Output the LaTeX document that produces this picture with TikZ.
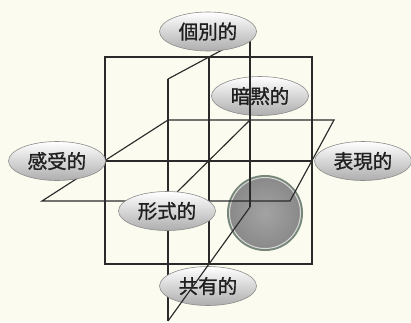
\documentclass[tikz,border=0pt]{standalone}
\usepackage{fontspec}
\newfontfamily\cjk[FakeBold=1.2]{Noto Sans CJK JP}
\usetikzlibrary{shapes.geometric}
\definecolor{bg}{HTML}{FBFBEF}
\definecolor{ln}{HTML}{2A2A2A}
\definecolor{rim}{HTML}{76877A}
\begin{document}
\begin{tikzpicture}[x=1pt,y=-1pt,
  lbl/.style={ellipse, draw=black!45, line width=0.6pt, minimum width=97pt, minimum height=39pt,
    inner sep=0pt, top color=white, middle color=black!10, bottom color=black!32,
    text=black!88, font=\cjk\fontsize{19.5}{19.5}\selectfont},
  edge/.style={draw=ln, line width=1.15pt}]
\fill[bg] (0,0) rectangle (411,322);
\useasboundingbox (0,0) rectangle (411,322);
% sphere
\fill[rim] (265,213) circle (38);
\shade[inner color=black!36, outer color=black!46] (265,213) circle (35.5);
\draw[white!70!gray, line width=1pt] (265,213) circle (35.5);
% corners
\coordinate (sqTL) at (105,57);
\coordinate (sqBR) at (312,264);
\coordinate (mT) at (209,57);
\coordinate (mB) at (209,264);
\coordinate (mL) at (105,161);
\coordinate (mR) at (312,161);
\coordinate (hA) at (42,201);
\coordinate (hB) at (290,201);
\coordinate (hC) at (334,120);
\coordinate (hD) at (168,120);
\coordinate (vA) at (168,79);
\coordinate (vB) at (250,35);
\coordinate (vC) at (250,207);
\coordinate (vD) at (168,321);
\coordinate (iA) at (250,120);
\coordinate (iB) at (168,201);
% lines under the labels
\draw[edge] (sqTL) rectangle (sqBR);
\draw[edge] (mT) -- (mB);
\draw[edge] (mL) -- (mR);
\draw[edge] (hA) -- (hB) -- (hC) -- (hD) -- cycle;
\draw[edge] (vA) -- (vD);
\draw[edge] (vA) -- (vB);
\draw[edge] (iA) -- (iB);
% labels under some lines
\node[lbl] (anmoku) at (260,96) {暗黙的};
\node[lbl] (kyoyu) at (208,286) {共有的};
% lines over those labels
\draw[edge] (vB) -- (vC);
\draw[edge] (vC) -- (vD);
% labels on top
\node[lbl] (kobetsu) at (208,31.5) {個別的};
\node[lbl] (kanju) at (57,161) {感受的};
\node[lbl] (hyogen) at (363,161) {表現的};
\node[lbl] (keishiki) at (167,211) {形式的};
\end{tikzpicture}
\end{document}
